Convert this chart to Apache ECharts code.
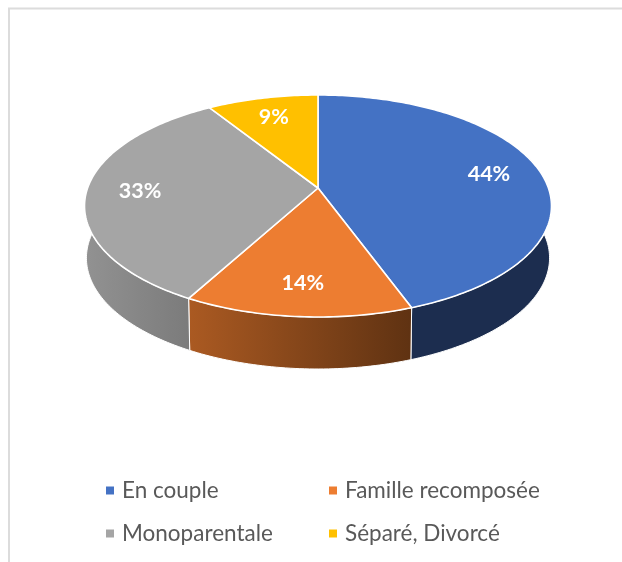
<!DOCTYPE html>
<html>
<head>
<meta charset="utf-8">
<script src="https://cdn.jsdelivr.net/npm/echarts@6/dist/echarts.min.js"></script>
<style>
html,body{margin:0;padding:0;background:#fff;}
#chart{width:622px;height:562px;}
</style>
</head>
<body>
<div id="chart"></div>
<script>
// ---- data ----
const categories = ['En couple', 'Famille recomposée', 'Monoparentale', 'Séparé, Divorcé'];
const values = [44.4, 13.6, 33, 9];

// ---- styles ----
const topColors = ['#4472c4', '#ed7d31', '#a5a5a5', '#ffc000'];
const sideColors = [
  ['#1c2d4f', '#1c2d4f'],
  ['#ab5a22', '#5f3212'],
  ['#929292', '#7b7b7b'],
  ['#b38600', '#8a6700']
];

const total = values.reduce((a, b) => a + b, 0);
const starts = [];
values.reduce((acc, v) => { starts.push(acc); return acc + v; }, 0);

// projection of the tilted disc (perspective)
const P = { cx: 318, cyT: 188, cyB: 240, aT: 230.4, aB: 228.5, b: 108.1, k: 0.162 };
function proj(theta, r, bottom) {
  const u = r * Math.sin(theta), v = -r * Math.cos(theta);
  const w = 1 - P.k * v;
  const a = bottom ? P.aB : P.aT;
  const cy = bottom ? P.cyB : P.cyT;
  return [P.cx + a * u / w, cy + P.b * v / w];
}
function arc(t1, t2, bottom) {
  const pts = [];
  const n = Math.max(2, Math.ceil(Math.abs(t2 - t1) / (Math.PI / 180)));
  for (let j = 0; j <= n; j++) pts.push(proj(t1 + (t2 - t1) * j / n, 1, bottom));
  return pts;
}

function renderItem(params, api) {
  const i = params.seriesIndex;
  const s = api.value(0), v = api.value(1);
  const t1 = s / total * 2 * Math.PI, t2 = (s + v) / total * 2 * Math.PI;
  const children = [];
  // visible side band
  const lo = Math.max(t1, Math.PI / 3), hi = Math.min(t2, 5 * Math.PI / 3);
  if (hi > lo) {
    const pts = arc(lo, hi, false).concat(arc(hi, lo, true));
    children.push({
      type: 'polygon',
      shape: { points: pts },
      style: {
        fill: new echarts.graphic.LinearGradient(0, 0, 1, 0, [
          { offset: 0, color: sideColors[i][0] },
          { offset: 1, color: sideColors[i][1] }
        ]),
        stroke: '#ffffff', lineWidth: 1
      }
    });
  }
  // top face
  const topPts = [proj(0, 0, false)].concat(arc(t1, t2, false));
  children.push({
    type: 'polygon',
    shape: { points: topPts },
    style: { fill: topColors[i], stroke: '#ffffff', lineWidth: 1.6, lineJoin: 'round' }
  });
  // label
  const mid = (t1 + t2) / 2;
  const lp = proj(mid, 0.77, false);
  children.push({
    type: 'text',
    x: lp[0], y: lp[1],
    style: {
      text: Math.round(v / total * 100) + '%',
      fill: '#ffffff',
      font: 'bold 21.5px Lato',
      align: 'center',
      verticalAlign: 'middle'
    }
  });
  return { type: 'group', children: children };
}

const legendLeft = [106, 329, 106, 329];
const legendTop = [479, 479, 522, 522];

const option = {
  animation: false,
  backgroundColor: '#ffffff',
  graphic: [{
    type: 'rect',
    shape: { x: 9, y: 8.5, width: 800, height: 800 },
    style: { fill: 'none', stroke: '#dcdcdc', lineWidth: 2 },
    silent: true, z: -10
  }],
  legend: categories.map((name, i) => ({
    data: [name],
    left: legendLeft[i],
    top: legendTop[i],
    padding: 0,
    icon: 'rect',
    itemWidth: 8,
    itemHeight: 8,
    selectedMode: false,
    textStyle: {
      color: '#595959',
      fontFamily: 'Lato',
      fontSize: 22.5,
      lineHeight: 22,
      padding: [0, 0, 0, 3]
    }
  })),
  series: categories.map((name, i) => ({
    type: 'custom',
    name: name,
    coordinateSystem: 'none',
    itemStyle: { color: topColors[i] },
    renderItem: renderItem,
    data: [[starts[i], values[i]]]
  }))
};

const chart = echarts.init(document.getElementById('chart'), null, { renderer: 'canvas' });
chart.setOption(option);
</script>
</body>
</html>
